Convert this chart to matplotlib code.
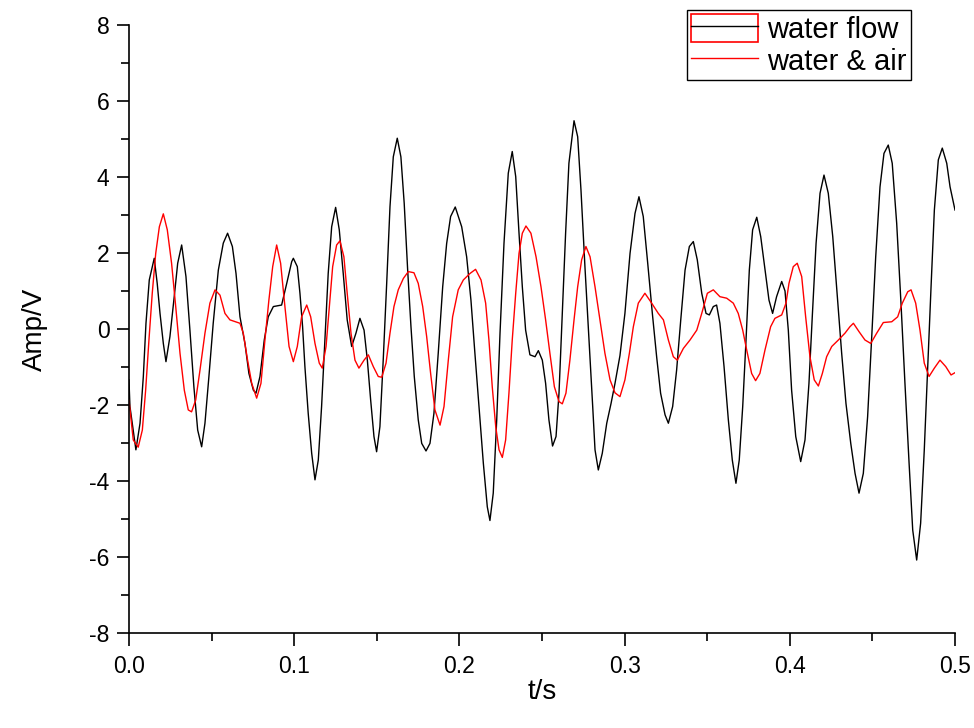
import matplotlib.pyplot as plt
from matplotlib.lines import Line2D
from matplotlib.patches import Patch
from matplotlib.legend_handler import HandlerTuple
from matplotlib.ticker import MultipleLocator, FuncFormatter

plt.rcParams['font.family'] = ['Liberation Sans', 'DejaVu Sans']

# water flow signal: time (s) and amplitude (V)
t_flow = [0.0000, 0.0006, 0.0042, 0.0067, 0.0087, 0.0103, 0.0123, 0.0153,
          0.0171, 0.0188, 0.0208, 0.0224, 0.0248, 0.0274, 0.0295, 0.0319,
          0.0345, 0.0369, 0.0393, 0.0416, 0.0440, 0.0460, 0.0484, 0.0510,
          0.0541, 0.0571, 0.0597, 0.0626, 0.0648, 0.0672, 0.0702, 0.0726,
          0.0753, 0.0769, 0.0793, 0.0819, 0.0843, 0.0874, 0.0924, 0.0955,
          0.0985, 0.0995, 0.1019, 0.1035, 0.1051, 0.1065, 0.1085, 0.1106,
          0.1126, 0.1146, 0.1166, 0.1186, 0.1206, 0.1227, 0.1251, 0.1273,
          0.1297, 0.1321, 0.1348, 0.1374, 0.1398, 0.1423, 0.1443, 0.1463,
          0.1483, 0.1499, 0.1519, 0.1539, 0.1560, 0.1580, 0.1600, 0.1624,
          0.1646, 0.1666, 0.1687, 0.1707, 0.1727, 0.1751, 0.1772, 0.1798,
          0.1822, 0.1846, 0.1872, 0.1899, 0.1923, 0.1947, 0.1975, 0.2014,
          0.2044, 0.2070, 0.2094, 0.2119, 0.2145, 0.2169, 0.2185, 0.2205,
          0.2226, 0.2246, 0.2270, 0.2296, 0.2320, 0.2341, 0.2361, 0.2381,
          0.2401, 0.2427, 0.2458, 0.2478, 0.2502, 0.2522, 0.2542, 0.2564,
          0.2585, 0.2603, 0.2623, 0.2643, 0.2663, 0.2694, 0.2716, 0.2736,
          0.2760, 0.2785, 0.2807, 0.2821, 0.2841, 0.2865, 0.2892, 0.2918,
          0.2942, 0.2972, 0.3002, 0.3033, 0.3063, 0.3087, 0.3113, 0.3140,
          0.3168, 0.3194, 0.3218, 0.3245, 0.3265, 0.3291, 0.3315, 0.3340,
          0.3366, 0.3392, 0.3416, 0.3440, 0.3467, 0.3493, 0.3513, 0.3537,
          0.3557, 0.3577, 0.3602, 0.3628, 0.3652, 0.3674, 0.3694, 0.3715,
          0.3735, 0.3755, 0.3775, 0.3800, 0.3824, 0.3850, 0.3874, 0.3896,
          0.3920, 0.3951, 0.3971, 0.3991, 0.4011, 0.4036, 0.4066, 0.4092,
          0.4116, 0.4136, 0.4159, 0.4183, 0.4207, 0.4233, 0.4260, 0.4288,
          0.4314, 0.4340, 0.4369, 0.4395, 0.4419, 0.4445, 0.4471, 0.4496,
          0.4520, 0.4546, 0.4570, 0.4596, 0.4620, 0.4647, 0.4673, 0.4697,
          0.4722, 0.4744, 0.4768, 0.4792, 0.4814, 0.4834, 0.4855, 0.4875,
          0.4899, 0.4923, 0.4950, 0.4970, 0.5000]
v_flow = [-1.34, -2.04, -3.18, -2.48, -1.25, 0.15, 1.29, 1.86,
          1.20, 0.41, -0.38, -0.86, -0.20, 0.85, 1.73, 2.21,
          1.38, -0.03, -1.52, -2.66, -3.10, -2.48, -1.25, 0.15,
          1.55, 2.26, 2.52, 2.17, 1.46, 0.32, -0.38, -1.17,
          -1.61, -1.69, -1.25, -0.29, 0.32, 0.59, 0.63, 1.20,
          1.77, 1.86, 1.64, 0.94, 0.06, -0.99, -2.22, -3.27,
          -3.97, -3.45, -2.04, -0.29, 1.46, 2.69, 3.20, 2.61,
          1.46, 0.24, -0.46, -0.11, 0.28, -0.03, -0.82, -1.87,
          -2.83, -3.23, -2.57, -0.82, 1.20, 3.22, 4.53, 5.02,
          4.53, 3.31, 1.55, 0.06, -1.25, -2.39, -3.01, -3.21,
          -3.01, -2.22, -0.64, 1.11, 2.25, 2.96, 3.21, 2.69,
          1.90, 0.76, -0.64, -2.04, -3.53, -4.68, -5.04, -4.32,
          -2.39, -0.11, 2.25, 4.10, 4.67, 4.01, 2.52, 1.11,
          -0.03, -0.68, -0.73, -0.57, -0.82, -1.43, -2.39, -3.08,
          -2.83, -1.69, 0.41, 2.52, 4.36, 5.48, 5.06, 3.66,
          1.64, -0.29, -2.04, -3.18, -3.71, -3.27, -2.48, -1.96,
          -1.43, -0.70, 0.41, 1.99, 3.04, 3.48, 2.96, 1.73,
          0.41, -0.73, -1.69, -2.26, -2.48, -2.04, -1.08, 0.24,
          1.55, 2.17, 2.30, 1.82, 0.94, 0.41, 0.37, 0.59,
          0.63, 0.15, -0.99, -2.39, -3.45, -4.06, -3.45, -2.04,
          -0.29, 1.55, 2.61, 2.94, 2.43, 1.55, 0.76, 0.41,
          0.85, 1.25, 1.00, -0.03, -1.61, -2.83, -3.49, -2.92,
          -1.43, 0.32, 2.25, 3.57, 4.05, 3.57, 2.43, 0.85,
          -0.64, -1.96, -3.01, -3.80, -4.32, -3.80, -2.31, -0.20,
          1.90, 3.74, 4.62, 4.84, 4.36, 2.78, 0.68, -1.43,
          -3.53, -5.29, -6.08, -5.11, -3.18, -1.08, 1.11, 3.13,
          4.45, 4.76, 4.36, 3.74, 3.13]

# water & air signal
t_air = [0.0000, 0.0026, 0.0056, 0.0081, 0.0101, 0.0121, 0.0141, 0.0162,
         0.0184, 0.0208, 0.0232, 0.0258, 0.0283, 0.0309, 0.0335, 0.0359,
         0.0379, 0.0404, 0.0430, 0.0460, 0.0490, 0.0521, 0.0551, 0.0581,
         0.0611, 0.0672, 0.0692, 0.0718, 0.0743, 0.0773, 0.0799, 0.0823,
         0.0847, 0.0870, 0.0894, 0.0918, 0.0944, 0.0969, 0.0995, 0.1019,
         0.1045, 0.1076, 0.1100, 0.1126, 0.1152, 0.1170, 0.1193, 0.1213,
         0.1233, 0.1257, 0.1277, 0.1301, 0.1321, 0.1344, 0.1368, 0.1392,
         0.1423, 0.1449, 0.1479, 0.1509, 0.1530, 0.1556, 0.1580, 0.1604,
         0.1630, 0.1661, 0.1691, 0.1725, 0.1751, 0.1778, 0.1802, 0.1826,
         0.1852, 0.1883, 0.1907, 0.1933, 0.1959, 0.1993, 0.2024, 0.2064,
         0.2098, 0.2131, 0.2159, 0.2179, 0.2199, 0.2220, 0.2240, 0.2260,
         0.2280, 0.2300, 0.2320, 0.2341, 0.2361, 0.2381, 0.2403, 0.2433,
         0.2464, 0.2494, 0.2522, 0.2548, 0.2575, 0.2603, 0.2623, 0.2645,
         0.2669, 0.2694, 0.2716, 0.2740, 0.2766, 0.2791, 0.2821, 0.2851,
         0.2881, 0.2912, 0.2942, 0.2972, 0.3002, 0.3029, 0.3053, 0.3083,
         0.3123, 0.3164, 0.3204, 0.3235, 0.3265, 0.3295, 0.3319, 0.3356,
         0.3396, 0.3437, 0.3467, 0.3501, 0.3537, 0.3577, 0.3618, 0.3658,
         0.3688, 0.3715, 0.3739, 0.3769, 0.3793, 0.3819, 0.3850, 0.3884,
         0.3910, 0.3951, 0.3977, 0.3995, 0.4021, 0.4045, 0.4072, 0.4096,
         0.4122, 0.4148, 0.4173, 0.4197, 0.4223, 0.4254, 0.4294, 0.4334,
         0.4364, 0.4385, 0.4419, 0.4455, 0.4490, 0.4526, 0.4566, 0.4617,
         0.4653, 0.4681, 0.4714, 0.4734, 0.4762, 0.4788, 0.4814, 0.4843,
         0.4875, 0.4909, 0.4944, 0.4976, 0.5000]
v_air = [-1.87, -2.92, -3.11, -2.66, -1.61, -0.29, 0.94, 1.99,
         2.69, 3.03, 2.61, 1.73, 0.59, -0.64, -1.61, -2.13,
         -2.18, -1.87, -1.08, -0.11, 0.68, 1.03, 0.89, 0.41,
         0.24, 0.15, -0.11, -0.82, -1.43, -1.82, -1.43, -0.29,
         0.76, 1.64, 2.21, 1.73, 0.59, -0.46, -0.86, -0.46,
         0.32, 0.63, 0.32, -0.38, -0.90, -1.03, -0.46, 0.59,
         1.64, 2.21, 2.32, 1.90, 0.94, -0.11, -0.82, -1.03,
         -0.82, -0.68, -0.99, -1.25, -1.27, -0.90, -0.11, 0.59,
         1.03, 1.33, 1.51, 1.48, 1.20, 0.59, -0.20, -1.17,
         -2.13, -2.53, -2.04, -0.82, 0.32, 1.03, 1.29, 1.46,
         1.57, 1.29, 0.68, -0.29, -1.52, -2.57, -3.18, -3.38,
         -2.92, -1.69, -0.29, 0.94, 1.99, 2.52, 2.71, 2.52,
         1.90, 1.11, 0.24, -0.64, -1.52, -1.91, -1.97, -1.69,
         -0.82, 0.24, 1.11, 1.82, 2.17, 1.90, 1.11, 0.24,
         -0.64, -1.34, -1.68, -1.78, -1.34, -0.64, 0.06, 0.68,
         0.94, 0.68, 0.41, 0.24, -0.29, -0.73, -0.82, -0.51,
         -0.29, -0.03, 0.41, 0.94, 1.03, 0.85, 0.81, 0.68,
         0.41, -0.03, -0.55, -1.17, -1.36, -1.17, -0.55, 0.06,
         0.28, 0.37, 0.68, 1.20, 1.64, 1.73, 1.38, 0.32,
         -0.73, -1.34, -1.50, -1.17, -0.73, -0.46, -0.29, -0.11,
         0.06, 0.15, -0.07, -0.29, -0.38, -0.11, 0.17, 0.19,
         0.32, 0.68, 0.98, 1.03, 0.68, -0.03, -0.90, -1.25,
         -1.03, -0.82, -0.99, -1.21, -1.15]

fig = plt.figure(figsize=(9.74, 7.28), dpi=100)
ax = fig.add_axes([0.1324, 0.1305, 0.8481, 0.8352])

ax.plot(t_flow, v_flow, color='black', lw=1.0)
ax.plot(t_air, v_air, color='red', lw=1.0)

ax.set_xlim(0, 0.5)
ax.set_ylim(-8, 8)
ax.xaxis.set_major_locator(MultipleLocator(0.1))
ax.xaxis.set_minor_locator(MultipleLocator(0.05))
ax.yaxis.set_major_locator(MultipleLocator(2))
ax.yaxis.set_minor_locator(MultipleLocator(1))
ax.xaxis.set_major_formatter(FuncFormatter(lambda v, p: f'{v:.1f}'))
ax.yaxis.set_major_formatter(FuncFormatter(lambda v, p: f'{v:.0f}'))

for s in ['top', 'right']:
    ax.spines[s].set_visible(False)
for s in ['left', 'bottom']:
    ax.spines[s].set_linewidth(1.2)
ax.tick_params(which='major', direction='out', length=9, width=1.2,
               labelsize=16.5)
ax.tick_params(axis='x', which='major', pad=6.5)
ax.tick_params(axis='y', which='major', pad=5)
ax.tick_params(which='minor', direction='out', length=6, width=1.2)

ax.set_xlabel('t/s', fontsize=20, labelpad=1)
ax.set_ylabel('Amp/V', fontsize=20, labelpad=30)

# first legend entry: black line inside a red box
h_flow = (Patch(facecolor='none', edgecolor='red', lw=1.2),
          Line2D([], [], color='black', lw=1.0))
h_air = Line2D([], [], color='red', lw=1.0)
leg = ax.legend([h_flow, h_air], ['water flow', 'water & air'],
                handler_map={tuple: HandlerTuple(ndivide=1, pad=0)},
                loc='upper right', bbox_to_anchor=(911 / 974, 718 / 728),
                bbox_transform=fig.transFigure, borderaxespad=0,
                fontsize=21, fancybox=False, framealpha=1, edgecolor='black',
                handlelength=2.3, handleheight=1.1, handletextpad=0.3,
                labelspacing=0.05, borderpad=0.15)
leg.get_frame().set_linewidth(1.0)

fig.savefig('out.png', dpi=100)
